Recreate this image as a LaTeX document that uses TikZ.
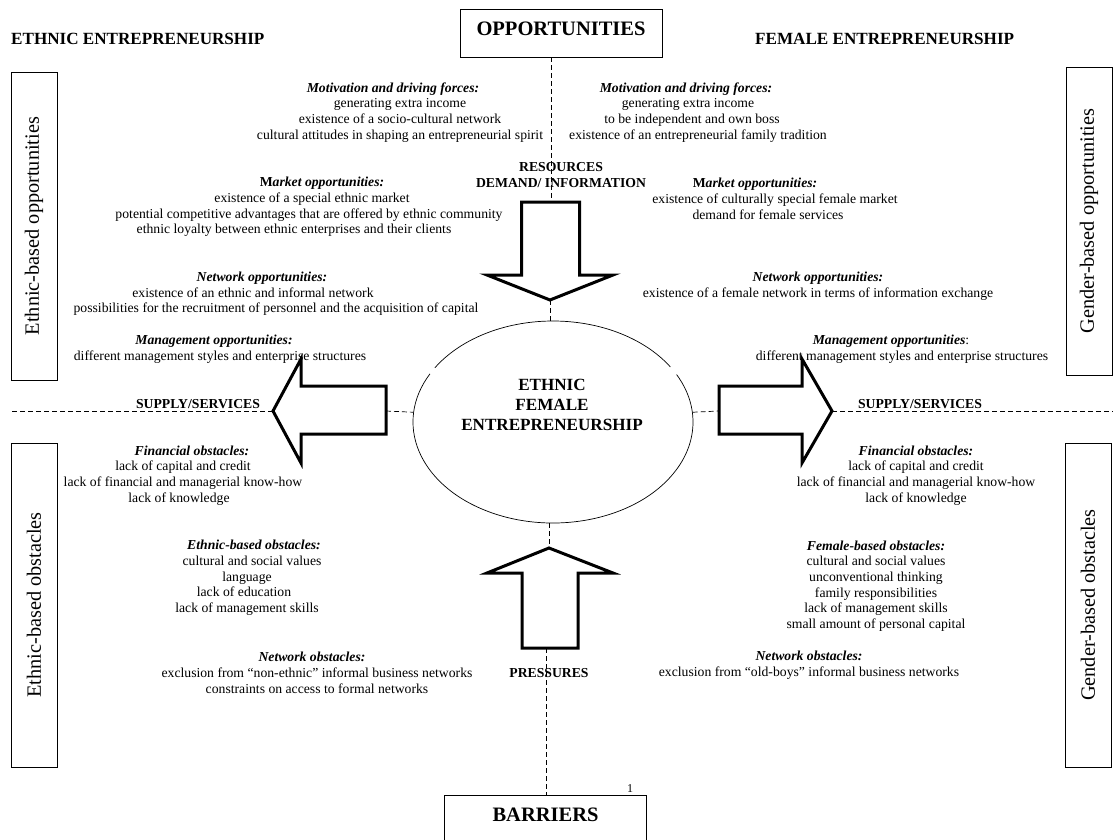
\documentclass[tikz,border=0pt]{standalone}
\usepackage{fontspec}
\setmainfont{Liberation Serif}
\usetikzlibrary{positioning,shapes.geometric}

\newcommand{\hdr}[1]{\textbf{\textit{#1}}}
% a centred line moved sideways by #1
\newcommand{\mv}[2]{\makebox[0pt]{\hspace*{#1}\hspace*{#1}#2}}

\begin{document}
\begin{tikzpicture}[x=1pt,y=-1pt,
  txt/.style={align=center,inner sep=0pt,font=\fontsize{13.7}{15.7}\selectfont},
  lbl/.style={align=center,inner sep=0pt,font=\bfseries\fontsize{13.7}{15.7}\selectfont},
  ttl/.style={align=center,inner sep=0pt,font=\bfseries\fontsize{17.1}{20}\selectfont},
  sidebox/.style={draw,line width=0.8pt,rotate=90,minimum width=#1,
    minimum height=46pt,inner sep=0pt,font=\fontsize{20.3}{24}\selectfont},
  bigbox/.style={draw,line width=0.8pt,anchor=north,minimum width=202pt,
    inner xsep=0pt,inner ysep=13pt,font=\bfseries\fontsize{20.5}{24}\selectfont},
  dline/.style={line width=0.7pt,dash pattern=on 5pt off 3pt},
  blk/.style={draw,line width=3pt,fill=white,line join=miter}]

\clip (0,0) rectangle (1113,840);
\fill[white] (0,0) rectangle (1113,840);

% titles and boxes
\node[ttl,anchor=west] (ethn) at (11,39) {ETHNIC ENTREPRENEURSHIP};
\node[ttl,anchor=west] (fem) at (755,39) {FEMALE ENTREPRENEURSHIP};
\node[bigbox,text depth=8pt] (opp) at (561,9) {OPPORTUNITIES};
\node[bigbox,text depth=40pt] (bar) at (545.5,795) {BARRIERS};
\node[inner sep=0pt,font=\fontsize{12}{14}\selectfont] (fnote) at (630,789) {1};

\node[sidebox=308pt] (eopp) at (34,226) {Ethnic-based opportunities};
\node[sidebox=308pt] (gopp) at (1089,221) {Gender-based opportunities};
\node[sidebox=324pt] (eobs) at (34,605) {Ethnic-based obstacles};
\node[sidebox=324pt] (gobs) at (1088,605) {Gender-based obstacles};

% opportunities
\node[txt] (mot1) at (400,112.5) {\mv{-7pt}{\hdr{Motivation and driving forces:}}\\generating extra income\\
  existence of a socio-cultural network\\cultural attitudes in shaping an entrepreneurial spirit};
\node[txt] (mkt1) at (309,207) {\mv{13pt}{\textbf{M\textit{arket opportunities:}}}\\\mv{3pt}{existence of a special ethnic market}\\
  potential competitive advantages that are offered by ethnic community\\
  \mv{-15pt}{ethnic loyalty between ethnic enterprises and their clients}};
\node[txt] (net1) at (262,294) {\hdr{Network opportunities:}\\\mv{-9pt}{existence of an ethnic and informal network}\\
  \mv{14pt}{possibilities for the recruitment of personnel and the acquisition of capital}};
\node[txt] (man1) at (217,349.5) {\mv{-3pt}{\hdr{Management opportunities:}}\\\mv{3pt}{different management styles and enterprise structures}};

\node[txt] (mot2) at (692,112.5) {\mv{-6pt}{\hdr{Motivation and driving forces:}}\\\mv{-4pt}{generating extra income}\\
  to be independent and own boss\\\mv{6pt}{existence of an entrepreneurial family tradition}};
\node[txt] (mkt2) at (768,199) {\mv{-13pt}{\textbf{M\textit{arket opportunities:}}}\\\mv{7pt}{existence of culturally special female market}\\
  demand for female services};
\node[txt] (net2) at (818,286) {\hdr{Network opportunities:}\\existence of a female network in terms of information exchange};
\node[txt] (man2) at (898,349.5) {\mv{-7pt}{\hdr{Management opportunities}:}\\\mv{4pt}{different management styles and enterprise structures}};

% obstacles
\node[txt] (fin1) at (183,475.5) {\mv{9pt}{\hdr{Financial obstacles:}}\\lack of capital and credit\\
  lack of financial and managerial know-how\\\mv{-4pt}{lack of knowledge}};
\node[txt] (eob) at (247,578) {\mv{7pt}{\hdr{Ethnic-based obstacles:}}\\\mv{5pt}{cultural and social values}\\language\\
  \mv{-3pt}{lack of education}\\lack of management skills};
\node[txt] (nob1) at (317,673) {\mv{-5pt}{\hdr{Network obstacles:}}\\exclusion from “non-ethnic” informal business networks\\
  constraints on access to formal networks};

\node[txt] (fin2) at (916,475.5) {\hdr{Financial obstacles:}\\lack of capital and credit\\
  lack of financial and managerial know-how\\lack of knowledge};
\node[txt] (fob) at (876,586) {\hdr{Female-based obstacles:}\\cultural and social values\\unconventional thinking\\
  family responsibilities\\lack of management skills\\small amount of personal capital};
\node[txt] (nob2) at (809,665.5) {\hdr{Network obstacles:}\\exclusion from “old-boys” informal business networks};

% flow labels
\node[lbl] (res) at (561,175) {RESOURCES\\DEMAND/ INFORMATION};
\node[lbl] (sup1) at (198,404) {SUPPLY/SERVICES};
\node[lbl] (sup2) at (920,404) {SUPPLY/SERVICES};
\node[lbl] (prs) at (549,673) {PRESSURES};

% centre
\node[ellipse,minimum width=280pt,minimum height=202pt,inner sep=0pt] (efe) at (553,422) {};
\node[ttl] (efelbl) at (552,405) {ETHNIC\\FEMALE\\ENTREPRENEURSHIP};
\draw[line width=0.7pt] (efe.center) ++(33:140pt and 101pt)
  arc[start angle=33,end angle=147.5,x radius=140pt,y radius=101pt];
\draw[line width=0.7pt] (efe.center) ++(151.5:140pt and 101pt)
  arc[start angle=151.5,end angle=388,x radius=140pt,y radius=101pt];

\coordinate (dntail) at (551,202);
\coordinate (dntip) at (550,300);
\coordinate (uptip) at (549,548);
\coordinate (uptail) at (546,648);
\coordinate (ltip) at (273,411);
\coordinate (ltail) at (386,411);
\coordinate (rtail) at (719,411);
\coordinate (rtip) at (832,411);
\coordinate (lend) at (12,411);
\coordinate (rend) at (1113,411);

% dashed flow lines
\draw[dline] (opp.south -| dntail) -- (dntail);
\draw[dline] (dntip) -- (dntip |- efe.north);
\draw[dline] (efe.south -| uptip) -- (uptip);
\draw[dline] (uptail) -- (uptail |- bar.north);
\draw[dline] (lend) -- (ltip);
\draw[dline] (ltail) -- (efe.176);
\draw[dline] (efe.4) -- (rtail);
\draw[dline] (rtip) -- (rend);

% block arrows
\draw[blk] (521.5,202) -- (579.5,202) -- (579.5,275) -- (613,275) -- (dntip)
  -- (487,275) -- (521.5,275) -- cycle;
\draw[blk] (522,648) -- (522,573) -- (487,573) -- (uptip) -- (613,573)
  -- (578,573) -- (578,648) -- cycle;
\draw[blk] (386,386) -- (301,386) -- (301,359) -- (ltip) -- (301,463)
  -- (301,434) -- (386,434) -- cycle;
\draw[blk] (719,386) -- (802,386) -- (802,359) -- (rtip) -- (802,463)
  -- (802,434) -- (719,434) -- cycle;

\end{tikzpicture}
\end{document}
